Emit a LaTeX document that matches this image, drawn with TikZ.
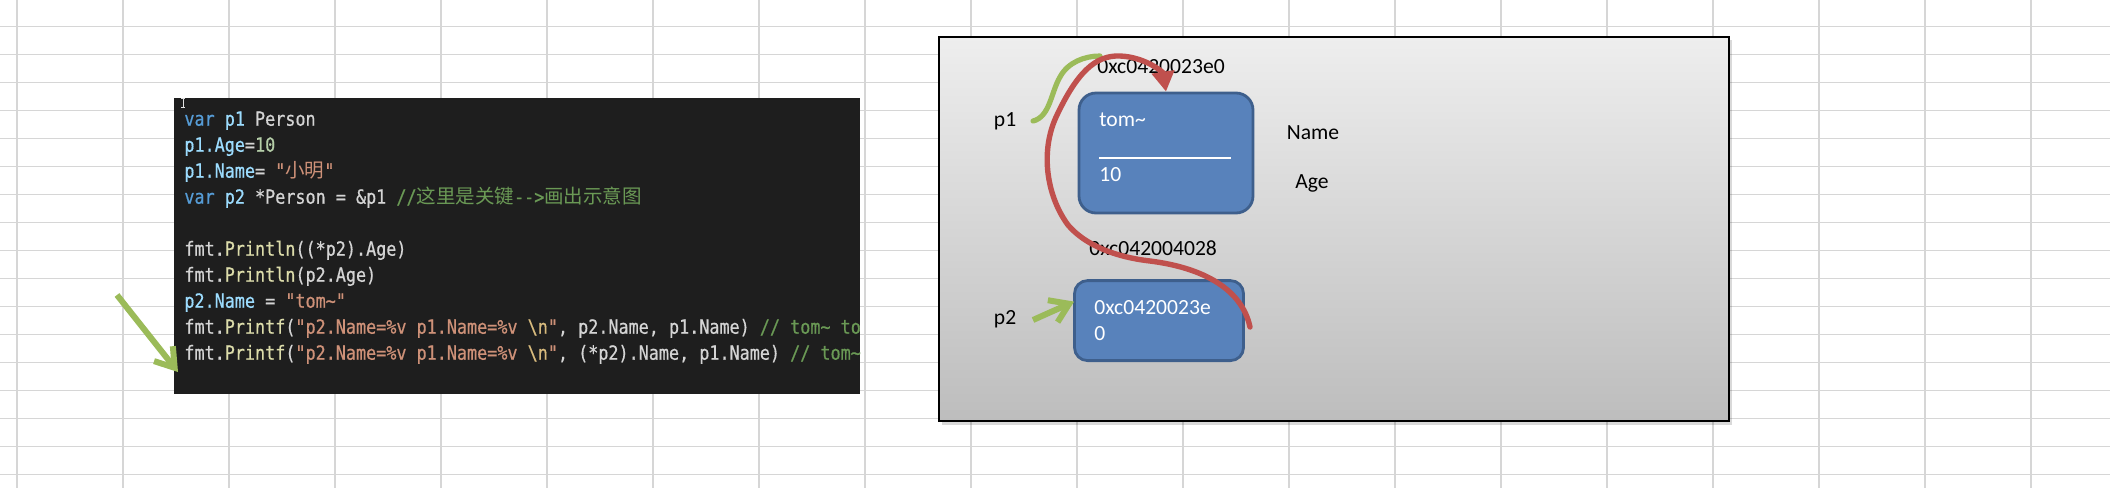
\documentclass[tikz,border=0pt]{standalone}
\usepackage{fontspec}
\setmainfont{Carlito}
\newfontfamily\codefont[FakeStretch=0.86,FakeBold=0.6,WordSpace={1,0,0},Ligatures=TeXOff]{DejaVu Sans Mono}
\newfontfamily\cjkfont{Noto Sans CJK SC}
\usetikzlibrary{arrows.meta,calc}
\definecolor{gridgray}{HTML}{D6D6D6}
\definecolor{codebg}{HTML}{1E1E1E}
\definecolor{cvar}{HTML}{569CD6}
\definecolor{cid}{HTML}{9CDCFE}
\definecolor{cwhite}{HTML}{D4D4D4}
\definecolor{cnum}{HTML}{B5CEA8}
\definecolor{cstr}{HTML}{CE9178}
\definecolor{ccom}{HTML}{6A9955}
\definecolor{cfn}{HTML}{DCDCAA}
\definecolor{cesc}{HTML}{D7BA7D}
\definecolor{panelTop}{HTML}{EEEEEE}
\definecolor{panelBot}{HTML}{BDBDBD}
\definecolor{boxfill}{HTML}{5882BB}
\definecolor{boxborder}{HTML}{3E5F8C}
\definecolor{arrowgreen}{HTML}{9BBB59}
\definecolor{arrowred}{HTML}{C0504D}
\newcommand{\cckw}[1]{\textcolor{cvar}{#1}}
\newcommand{\ccid}[1]{\textcolor{cid}{#1}}
\newcommand{\ccnum}[1]{\textcolor{cnum}{#1}}
\newcommand{\ccstr}[1]{\textcolor{cstr}{#1}}
\newcommand{\cccom}[1]{\textcolor{ccom}{#1}}
\newcommand{\ccfn}[1]{\textcolor{cfn}{#1}}
\newcommand{\ccesc}[1]{\textcolor{cesc}{#1}}
\tikzset{
  gridline/.style={draw=gridgray, line width=0.65pt},
  codeline/.style={inner sep=0pt, anchor=base west, text=cwhite,
    font=\codefont\fontsize{9.75}{13}\selectfont},
  lbl/.style={inner sep=0pt, anchor=base west, text=black,
    font=\fontsize{10.8}{13}\selectfont},
  boxtxt/.style={lbl, text=white},
  membox/.style={draw=boxborder, fill=boxfill, line width=1.4pt, inner sep=0pt},
  greenline/.style={draw=arrowgreen, line width=2.6pt, line cap=round},
  greenarrow/.style={draw=arrowgreen, line width=3pt,
    -{Straight Barb[length=9pt,width=12pt]}},
  redarrow/.style={draw=arrowred, line width=2.7pt, line cap=round,
    -{Triangle[length=10pt,width=11pt]}},
}
\begin{document}
\begin{tikzpicture}[x=0.5pt,y=-0.5pt]
\useasboundingbox (0,0) rectangle (2110,488);
\fill[white] (0,0) rectangle (2110,488);
% spreadsheet grid
\foreach \k in {0,...,19} \draw[gridline] (17+106*\k,0) -- (17+106*\k,488);
\foreach \k in {0,...,16} \draw[gridline] (0,26.7+28*\k) -- (2110,26.7+28*\k);

% ---------- code panel ----------
\fill[codebg] (174,98) rectangle (860,394);
\draw[cwhite!70, line width=0.5pt] (181,98.8) -- (185,98.8) (183,98.8) -- (183,107.5) (181,107.5) -- (185,107.5);
\begin{scope}
\clip (174,98) rectangle (860,394);
\node[codeline] (c1) at (184,125.7) {\cckw{var} \ccid{p1} Person};
\node[codeline] (c2) at (184,151.7) {\ccid{p1.Age}=\ccnum{10}};
\node[codeline] (c3) at (184,177.7) {\ccid{p1.Name}= \ccstr{"{\cjkfont 小明}"}};
\node[codeline] (c4) at (184,203.7) {\cckw{var} \ccid{p2} *Person = \&p1 \cccom{//{\cjkfont 这里是关键}-{}->{\cjkfont 画出示意图}}};
\node[codeline] (c6) at (184,255.7) {fmt.\ccfn{Println}((*p2).Age)};
\node[codeline] (c7) at (184,281.7) {fmt.\ccfn{Println}(p2.Age)};
\node[codeline] (c8) at (184,307.7) {\ccid{p2.Name} = \ccstr{"tom\textasciitilde"}};
\node[codeline] (c9) at (184,333.7) {fmt.\ccfn{Printf}(\ccstr{"p2.Name=\%v p1.Name=\%v }\ccesc{\textbackslash n}\ccstr{"}, p2.Name, p1.Name) \cccom{// tom\textasciitilde{} to}};
\node[codeline] (c10) at (184,359.7) {fmt.\ccfn{Printf}(\ccstr{"p2.Name=\%v p1.Name=\%v }\ccesc{\textbackslash n}\ccstr{"}, (*p2).Name, p1.Name) \cccom{// tom\textasciitilde}};
\end{scope}

% pointer arrow at the code
\coordinate (g3s) at (117,295);
\coordinate (g3e) at (178,372);
\draw[greenarrow] (g3s) -- (g3e);

% ---------- diagram panel ----------
\fill[black, opacity=0.15] (941.5,39.5) rectangle (1732,424.5);
\draw[line width=1pt, top color=panelTop, bottom color=panelBot] (938.5,36.5) rectangle (1729,421);

\node[membox, minimum width=87pt, minimum height=60pt, rounded corners=8.5pt] (topbox) at (1166,153) {};
\node[membox, minimum width=84.5pt, minimum height=40pt, rounded corners=6.5pt] (botbox) at (1159,320.6) {};

\node[lbl] (addr1) at (1097,73.3) {0xc0420023e0};
\node[boxtxt] (tom) at (1099,126) {tom\textasciitilde};
\draw[white, line width=1pt] (1099,157.5) -- (1231,157.5);
\node[boxtxt] (ten) at (1099,181) {10};
\node[lbl] (namelbl) at (1286.5,139.3) {Name};
\node[lbl] (agelbl) at (1295,188.3) {Age};
\node[lbl] (p1lbl) at (993.5,126.7) {p1};
\node[lbl] (addr2) at (1089,255) {0xc042004028};
\node[boxtxt] (ptrval1) at (1094,314) {0xc0420023e};
\node[boxtxt] (ptrval2) at (1094,340.7) {0};
\node[lbl] (p2lbl) at (993.5,324.3) {p2};

% green pointers
\coordinate (g1s) at (1033,121);
\coordinate (g1e) at (1100,56);
\draw[greenline] (g1s) .. controls (1050,117) and (1051,92) .. (1060,77)
  .. controls (1068,62) and (1085,56) .. (g1e);
\coordinate (g2s) at (1033,320);
\draw[greenarrow] (g2s) -- ($(botbox.west)+(1,-19)$);

% red dereference curve
\coordinate (redstart) at (1250,327);
\draw[redarrow] (redstart) .. controls (1242,290) and (1205,268) .. (1150,261)
  .. controls (1115,257) and (1085,245) .. (1068,225)
  .. controls (1046,195) and (1040,150) .. (1057,115)
  .. controls (1077,73) and (1095,55) .. (1120,56)
  .. controls (1145,57) and (1163,72) .. (topbox.north);
\end{tikzpicture}
\end{document}
